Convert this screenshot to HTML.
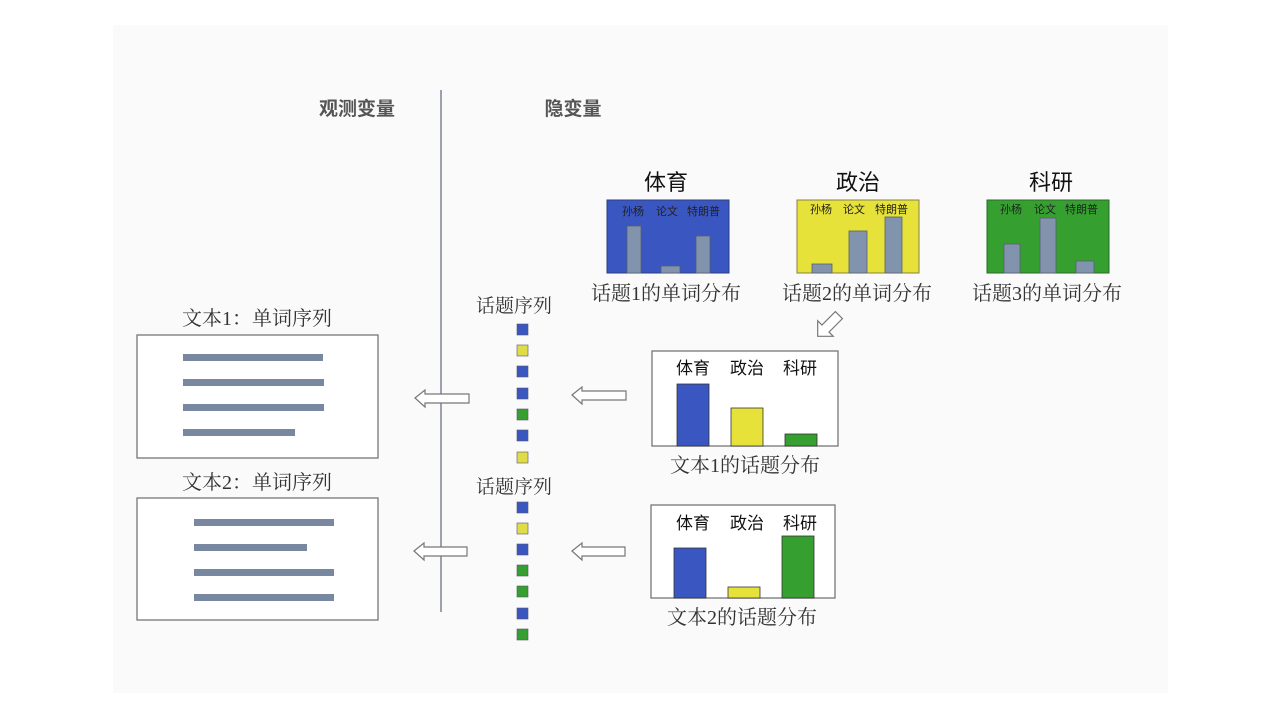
<!DOCTYPE html>
<html><head><meta charset="utf-8"><style>
html,body{margin:0;padding:0;background:#fff;}
svg{display:block;}
.s{font-family:"Liberation Serif","Noto Serif CJK SC",serif;fill:#333;}
.a{font-family:"Liberation Sans","Noto Sans CJK SC",sans-serif;fill:#111;}
</style></head><body>
<svg width="1280" height="720" viewBox="0 0 1280 720">
<rect x="0" y="0" width="1280" height="720" fill="#fff"/>
<rect x="113" y="25" width="1055" height="668" fill="#fafafb"/>
<line x1="441" y1="90" x2="441" y2="612" stroke="#7c8296" stroke-width="1.5"/>
<text x="357" y="115" class="a" font-size="19" font-weight="bold" text-anchor="middle" style="fill:#555">观测变量</text>
<text x="573" y="115" class="a" font-size="19" font-weight="bold" text-anchor="middle" style="fill:#555">隐变量</text>

<g class="a" font-size="22" text-anchor="middle">
<text x="666" y="190">体育</text><text x="858" y="190">政治</text><text x="1051" y="190">科研</text>
</g>
<rect x="607" y="200" width="122" height="73" fill="#3a56c0" stroke="#2b3d80"/>
<rect x="797" y="200" width="122" height="73" fill="#e6e23a" stroke="#888040"/>
<rect x="987" y="200" width="122" height="73" fill="#35a030" stroke="#2a6a28"/>
<g fill="#8294ad" stroke="#556070" stroke-width="0.8">
<rect x="627" y="226" width="14" height="47"/><rect x="661" y="266" width="19" height="7"/><rect x="696" y="236" width="14" height="37"/>
<rect x="812" y="264" width="20" height="9"/><rect x="849" y="231" width="18" height="42"/><rect x="885" y="217" width="17" height="56"/>
<rect x="1004" y="244" width="16" height="29"/><rect x="1040" y="218" width="16" height="55"/><rect x="1076" y="261" width="18" height="12"/>
</g>
<g class="a" font-size="11" style="fill:#222">
<text x="622" y="215">孙杨</text><text x="656" y="215">论文</text><text x="687" y="215">特朗普</text>
<text x="810" y="213">孙杨</text><text x="843" y="213">论文</text><text x="875" y="213">特朗普</text>
<text x="1000" y="213">孙杨</text><text x="1034" y="213">论文</text><text x="1065" y="213">特朗普</text>
</g>
<g class="s" font-size="20" text-anchor="middle">
<text x="666" y="300">话题1的单词分布</text><text x="857" y="300">话题2的单词分布</text><text x="1047" y="300">话题3的单词分布</text>
</g>
<g transform="translate(829,325) rotate(135)">
<polygon points="-14,-5 5,-5 5,-11 16,0 5,11 5,5 -14,5" fill="#fff" stroke="#777" stroke-width="1.2"/>
</g>

<g class="s" font-size="19" text-anchor="middle">
<text x="514" y="312">话题序列</text><text x="514" y="493">话题序列</text>
</g>
<g stroke="#556" stroke-width="0.6">
<rect x="517" y="324" width="11" height="11" fill="#3a56c0"/>
<rect x="517" y="345" width="11" height="11" fill="#e0dc48"/>
<rect x="517" y="366" width="11" height="11" fill="#3a56c0"/>
<rect x="517" y="388" width="11" height="11" fill="#3a56c0"/>
<rect x="517" y="409" width="11" height="11" fill="#35a030"/>
<rect x="517" y="430" width="11" height="11" fill="#3a56c0"/>
<rect x="517" y="452" width="11" height="11" fill="#e0dc48"/>
<rect x="517" y="502" width="11" height="11" fill="#3a56c0"/>
<rect x="517" y="523" width="11" height="11" fill="#e0dc48"/>
<rect x="517" y="544" width="11" height="11" fill="#3a56c0"/>
<rect x="517" y="565" width="11" height="11" fill="#35a030"/>
<rect x="517" y="586" width="11" height="11" fill="#35a030"/>
<rect x="517" y="608" width="11" height="11" fill="#3a56c0"/>
<rect x="517" y="629" width="11" height="11" fill="#35a030"/>
</g>

<g fill="#fff" stroke="#777" stroke-width="1.2">
<polygon points="572,395 582,387 582,391 626,391 626,400 582,400 582,404"/>
<polygon points="415,398 425,390 425,394 469,394 469,403 425,403 425,407"/>
<polygon points="572,551 582,543 582,547 625,547 625,556 582,556 582,560"/>
<polygon points="414,551 424,543 424,547 467,547 467,556 424,556 424,560"/>
</g>

<rect x="652" y="351" width="186" height="95" fill="#fff" stroke="#777" stroke-width="1.3"/>
<rect x="651" y="505" width="184" height="93" fill="#fff" stroke="#777" stroke-width="1.3"/>
<g class="a" font-size="17" style="fill:#111">
<text x="676" y="374">体育</text><text x="730" y="374">政治</text><text x="783" y="374">科研</text>
<text x="676" y="529">体育</text><text x="730" y="529">政治</text><text x="783" y="529">科研</text>
</g>
<g stroke="#333" stroke-width="0.8">
<rect x="677" y="384" width="32" height="62" fill="#3a56c0"/>
<rect x="731" y="408" width="32" height="38" fill="#e6e23a"/>
<rect x="785" y="434" width="32" height="12" fill="#35a030"/>
<rect x="674" y="548" width="32" height="50" fill="#3a56c0"/>
<rect x="728" y="587" width="32" height="11" fill="#e6e23a"/>
<rect x="782" y="536" width="32" height="62" fill="#35a030"/>
</g>
<g class="s" font-size="20" text-anchor="middle">
<text x="745" y="472">文本1的话题分布</text><text x="742" y="624">文本2的话题分布</text>
</g>

<g class="s" font-size="20" text-anchor="middle">
<text x="257" y="325">文本1：单词序列</text><text x="257" y="489">文本2：单词序列</text>
</g>
<rect x="137" y="335" width="241" height="123" fill="#fff" stroke="#777" stroke-width="1.3"/>
<rect x="137" y="498" width="241" height="122" fill="#fff" stroke="#777" stroke-width="1.3"/>
<g fill="#7888a0">
<rect x="183" y="354" width="140" height="7"/><rect x="183" y="379" width="141" height="7"/><rect x="183" y="404" width="141" height="7"/><rect x="183" y="429" width="112" height="7"/>
<rect x="194" y="519" width="140" height="7"/><rect x="194" y="544" width="113" height="7"/><rect x="194" y="569" width="140" height="7"/><rect x="194" y="594" width="140" height="7"/>
</g>
</svg>
</body></html>
